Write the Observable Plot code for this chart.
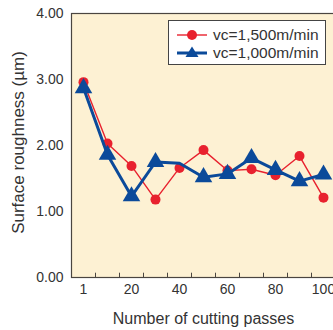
<!DOCTYPE html>
<html>
<head>
<meta charset="utf-8">
<script src="https://cdn.jsdelivr.net/npm/d3@7"></script>
<script src="https://cdn.jsdelivr.net/npm/@observablehq/plot@0.6"></script>
<style>
  html, body { margin: 0; padding: 0; background: #fff; overflow: hidden; width: 333px; height: 330px; }
  #wrap { position: relative; width: 333px; height: 330px; overflow: hidden; font-family: "Liberation Sans", Arial, sans-serif; }
  #wrap > svg { max-width: none !important; width: 335px !important; height: 330px !important; }
  #wrap svg [aria-label="x-axis label"] { font-size: 16px; }
  #legend { position: absolute; left: 168px; top: 20px; width: 158px; height: 45px; background: #fff; border: 1px solid #444; box-sizing: border-box; font-size: 15.5px; color: #333; }
  #legend .row { position: absolute; left: 8px; height: 18px; display: flex; align-items: center; white-space: nowrap; }
  #legend svg { margin-right: 6px; }
</style>
</head>
<body>
<div id="wrap"></div>
<script>
const passes = ["1","10","20","30","40","50","60","70","80","90","100"];
const tickLabels = ["1","20","40","60","80","100"];
const yTicks = [0, 1, 2, 3, 4];
const series1Name = "vc=1,500m/min";
const series2Name = "vc=1,000m/min";
const series1 = [2.96, 2.03, 1.69, 1.18, 1.66, 1.93, 1.62, 1.64, 1.55, 1.84, 1.21];
const series2 = [2.87, 1.86, 1.23, 1.75, 1.73, 1.52, 1.57, 1.81, 1.63, 1.46, 1.56];
const series2NoMarker = ["40"];
const xTitle = "Number of cutting passes";
const yTitle = "Surface roughness (µm)";

const red = "#e8212e";
const blue = "#0b4a9a";
const bg = "#fdf1d3";
const axisColor = "#4a4540";

const d1 = passes.map((p, i) => ({p, v: series1[i]}));
const d2 = passes.map((p, i) => ({p, v: series2[i]}));
const d2m = d2.filter(d => !series2NoMarker.includes(d.p));

const chart = Plot.plot({
  width: 335,
  height: 330,
  marginLeft: 71,
  marginRight: 0,
  marginTop: 13,
  marginBottom: 53,
  style: {fontFamily: "Liberation Sans, Arial, sans-serif", fontSize: "14px", color: "#333", background: "transparent", overflow: "visible"},
  x: {type: "point", domain: passes, padding: 0.5},
  y: {domain: [0, 4]},
  marks: [
    Plot.frame({fill: bg, stroke: null}),
    Plot.ruleX(passes, {x: d => d, dx: 12, y1: 0, y2: 0.065, stroke: axisColor, strokeWidth: 1}),
    Plot.frame({stroke: axisColor, strokeWidth: 1.2}),
    Plot.axisX(tickLabels, {tickSize: 0, tickPadding: 7, fontSize: 14, fill: "#333", label: xTitle, labelAnchor: "center", labelOffset: 46}),
    Plot.axisY(yTicks, {tickSize: 0, tickPadding: 8, tickFormat: d3.format(".2f"), fontSize: 14, fill: "#333", label: null}),
    Plot.text([yTitle], {frameAnchor: "left", rotate: -90, dx: -53, dy: -3, textAnchor: "middle", fontSize: 17, fill: "#333"}),
    Plot.line(d1, {x: "p", y: "v", stroke: red, strokeWidth: 1.4}),
    Plot.dot(d1, {x: "p", y: "v", r: 5, fill: red, stroke: null}),
    Plot.line(d2, {x: "p", y: "v", stroke: blue, strokeWidth: 3}),
    Plot.dot(d2m, {x: "p", y: "v", symbol: "triangle", r: 6.5, fill: blue, stroke: null})
  ]
});
document.getElementById("wrap").appendChild(chart);

const legend = document.createElement("div");
legend.id = "legend";
const rows = [
  {name: series1Name, color: red, w: 1.4, sym: "circle"},
  {name: series2Name, color: blue, w: 3, sym: "triangle"}
];
rows.forEach((r, i) => {
  const row = document.createElement("div");
  row.className = "row";
  row.style.top = (5 + i * 18) + "px";
  const marker = r.sym === "circle"
    ? `<circle cx="15" cy="9" r="5" fill="${r.color}"/>`
    : `<path d="M15,2.5 L21.5,13 L8.5,13 Z" fill="${r.color}"/>`;
  row.innerHTML = `<svg width="30" height="18"><line x1="0" x2="30" y1="9" y2="9" stroke="${r.color}" stroke-width="${r.w}"/>${marker}</svg><span>${r.name}</span>`;
  legend.appendChild(row);
});
document.getElementById("wrap").appendChild(legend);
</script>
</body>
</html>
